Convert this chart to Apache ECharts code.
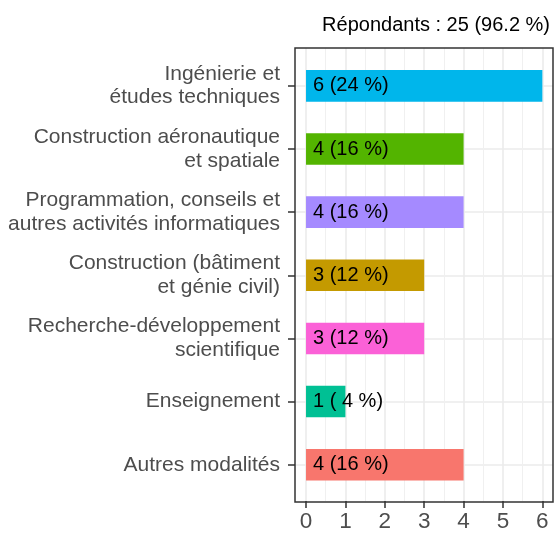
<!DOCTYPE html>
<html>
<head>
<meta charset="utf-8">
<script src="https://cdn.jsdelivr.net/npm/echarts@6/dist/echarts.min.js"></script>
<style>
  html, body { margin: 0; padding: 0; background: #fff; }
  #chart { width: 555px; height: 533px; }
</style>
</head>
<body>
<div id="chart"></div>
<script>
// données
const categories = [
  'Ingénierie et\nétudes techniques',
  'Construction aéronautique\net spatiale',
  'Programmation, conseils et\nautres activités informatiques',
  'Construction (bâtiment\net génie civil)',
  'Recherche-développement\nscientifique',
  'Enseignement',
  'Autres modalités'
];
const counts = [6, 4, 4, 3, 3, 1, 4];
const percents = [24, 16, 16, 12, 12, 4, 16];
const colors = ['#00B6EB', '#53B400', '#A58AFF', '#C49A00', '#FB61D7', '#00C094', '#F8766D'];
const xTicks = [0, 1, 2, 3, 4, 5, 6];
const respondents = 25;
const responseRate = 96.2;

const font = 'Liberation Sans';
const gridColor = '#ebebeb';

const chart = echarts.init(document.getElementById('chart'));

const option = {
  animation: false,
  textStyle: { fontFamily: font },
  title: {
    text: 'Répondants : ' + respondents + ' (' + responseRate + ' %)',
    right: 0,
    top: 10,
    textStyle: { fontFamily: font, fontSize: 20, fontWeight: 'normal', color: '#000' }
  },
  grid: [
    // cadre du panneau
    { left: 295, right: 2, top: 48, bottom: 31, show: true, borderColor: '#333', borderWidth: 1.5, backgroundColor: 'transparent', z: 5 },
    // lignes verticales + graduations x
    { left: 306, right: 12.7, top: 48, bottom: 31 },
    // lignes horizontales (centres des catégories)
    { left: 295, right: 2, top: 85.9, bottom: 68.3 },
    // barres
    { left: 295, right: 2, top: 54.3, bottom: 36.7 }
  ],
  xAxis: [
    { gridIndex: 0, type: 'value', show: false },
    {
      gridIndex: 1, type: 'value',
      min: xTicks[0], max: xTicks[xTicks.length - 1], interval: 1,
      axisLine: { show: false },
      axisTick: { show: true, length: 7, lineStyle: { color: '#333', width: 1.5 } },
      axisLabel: { color: '#4d4d4d', fontSize: 22.5, margin: 9 },
      splitLine: { show: true, lineStyle: { color: gridColor, width: 1.6 } },
      minorTick: { show: false, splitNumber: 2 },
      minorSplitLine: { show: true, lineStyle: { color: '#f0f0f0', width: 1 } }
    },
    { gridIndex: 2, type: 'value', show: false },
    { gridIndex: 3, type: 'value', min: -0.28, max: 6.27, show: false }
  ],
  yAxis: [
    { gridIndex: 0, type: 'value', show: false },
    { gridIndex: 1, type: 'value', show: false },
    {
      gridIndex: 2, type: 'value', min: 0, max: categories.length - 1, interval: 1,
      axisLine: { show: false }, axisTick: { show: false }, axisLabel: { show: false },
      splitLine: { show: true, lineStyle: { color: gridColor, width: 1.6 } }
    },
    {
      gridIndex: 3, type: 'category', data: categories, inverse: true,
      axisLine: { show: false, onZero: false },
      axisTick: { show: true, alignWithLabel: true, length: 7, lineStyle: { color: '#333', width: 1.5 } },
      axisLabel: { color: '#4d4d4d', fontSize: 21, lineHeight: 23.5, margin: 15, align: 'right' },
      splitLine: { show: false }
    }
  ],
  series: [
    {
      type: 'bar',
      xAxisIndex: 3,
      yAxisIndex: 3,
      barWidth: '50%',
      data: counts.map((v, i) => ({ value: v, itemStyle: { color: colors[i] } })),
      label: {
        show: true,
        position: 'insideLeft',
        distance: 7,
        color: '#000',
        fontSize: 20,
        formatter: p => counts[p.dataIndex] + ' (' + String(percents[p.dataIndex]).padStart(2, ' ') + ' %)'
      },
      z: 3
    }
  ]
};

chart.setOption(option);
</script>
</body>
</html>
